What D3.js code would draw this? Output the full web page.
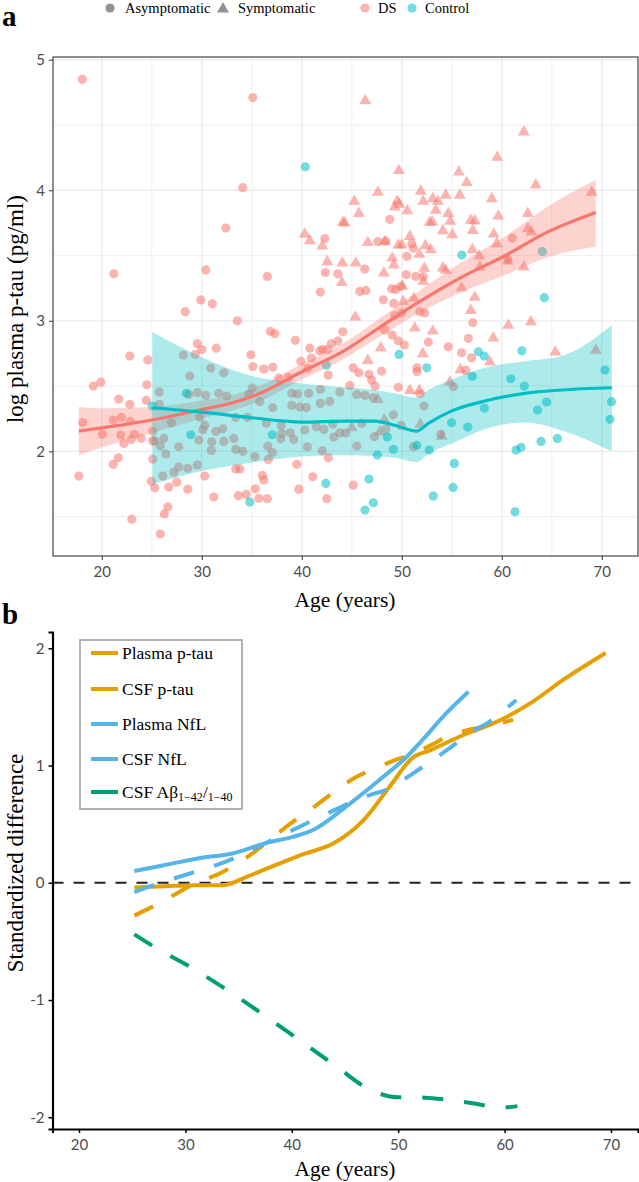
<!DOCTYPE html>
<html>
<head>
<meta charset="utf-8">
<script src="https://cdn.jsdelivr.net/npm/d3@7"></script>
<style>
  body { margin: 0; background: #fff; }
  text { font-family: "Liberation Serif", serif; }
  .tick text { font-family: "Lato", sans-serif; fill: #4d4d4d; font-size: 15px; }
</style>
</head>
<body>
<div id="plot"></div>
<script>
// ---- panel a: log plasma p-tau vs age ----
const dsAsymptomatic = [
  [18.05,4.85],[35.1,4.71],[34.1,4.02],[32.4,3.71],[21.2,3.36],[30.4,3.39],[36.55,3.34],[42.3,3.63],
  [42.35,3.37],[43.6,3.36],[41.85,3.22],[29.9,3.16],[31.05,3.13],
  [28.35,3.07],[33.55,3.0],[36.85,2.92],[37.3,2.90],[22.8,2.73],[24.6,2.70],[19.15,2.50],[19.9,2.53],
  [24.5,2.51],[21.7,2.40],[22.8,2.36],[24.45,2.39],[18.1,2.22],[21.15,2.24],[21.95,2.26],[22.85,2.23],
  [20.05,2.13],[21.9,2.125],[23.25,2.13],[23.95,2.10],[22.2,2.06],[22.95,2.09],[21.65,1.95],[21.15,1.90],
  [17.7,1.81],[25.1,1.94],[25.1,2.155],[25.1,2.08],[24.95,1.77],[25.3,1.72],[23.0,1.48],[26.25,1.52],
  [26.6,1.575],[25.85,1.366],[26.7,1.726],[27.5,1.764],[28.6,1.71],[30.3,1.81],[31.2,1.65],[33.4,1.865],
  [33.8,1.865],[33.65,1.66],[34.45,1.67],[35.35,1.713],[35.7,1.64],[36.55,1.637],[36.05,1.815],[36.2,1.78],
  [39.5,1.90],[41.1,1.805],[39.7,1.71],[42.5,1.637],[42.65,1.95],
  [29.55,2.824],[30.0,2.78],[31.45,2.79],[34.9,2.74],[35.1,2.65],[36.2,2.63],[37.1,2.645],[39.35,2.85],
  [39.9,2.69],[40.8,2.79],[40.95,2.715],[40.6,2.635],[41.8,2.77],[42.1,2.78],[42.6,2.78],[42.65,2.584],
  [42.95,2.824],[43.6,2.845],[44.1,2.916],[37.7,2.56],[38.65,2.566],
  [28.15,2.737],[29.35,2.742],[28.8,2.577],[30.9,2.638],[32.2,2.602],[25.75,2.454],[25.75,2.36],[28.7,2.436],
  [29.55,2.449],[30.4,2.429],[31.7,2.444],[32.5,2.423],[35.05,2.485],[34.7,2.436],[35.8,2.38],[37.1,2.334],
  [39.0,2.444],[39.55,2.439],[40.7,2.444],[39.0,2.352],[39.8,2.34],[40.45,2.334],[41.85,2.367],[41.85,2.474],
  [42.8,2.382],[43.8,2.454],[26.95,2.219],[29.8,2.26],[30.3,2.20],[33.4,2.26],[34.55,2.26],[36.45,2.216],
  [37.95,2.20],[41.45,2.188],[43.1,2.21],[25.3,2.08],[26.2,2.099],[25.85,2.04],[26.4,1.98],[27.7,2.035],
  [29.7,2.086],[30.1,2.165],[31.0,2.073],[30.95,2.007],[31.4,2.153],[32.1,2.173],[32.2,2.076],[33.2,2.099],
  [33.4,2.015],[34.1,2.0],[35.3,1.96],[36.6,2.04],[37.05,1.99],[36.65,1.938],[38.0,2.137],[37.9,2.096],
  [38.85,2.142],[39.2,2.091],[40.3,2.163],[40.55,2.035],[42.05,2.004],[42.2,2.168],[43.2,2.109],[43.8,2.142],
  [28.6,1.87],[27.7,1.88],[27.2,1.84],[26.1,1.81],[29.55,1.895],
  [48.8,3.777],[47.6,3.606],[48.4,3.61],[51.0,3.591],[51.15,3.557],[50.5,3.493],[46.3,3.396],[50.45,3.353],
  [51.4,3.34],[52.15,3.34],[45.8,3.225],[46.4,3.233],[48.99,3.246],[49.4,3.24],[49.9,3.264],[48.15,3.161],
  [49.2,3.133],[61.05,3.634],[60.6,3.47],
  [57.1,2.985],[56.65,2.865],[54.65,2.801],[52.65,2.837],[50.25,2.814],[49.65,2.847],[49.05,2.891],[48.3,2.93],
  [49.3,3.04],[50.0,3.06],[51.8,3.07],[52.3,3.06],
  [55.98,2.755],[56.98,2.717],[47.98,2.615],[51.52,2.64],[51.52,2.61],[56.4,2.62],[45.15,2.64],[45.7,2.602],
  [46.72,2.59],[46.98,2.546],[47.32,2.5],[49.65,2.49],[51.82,2.441],[44.8,2.505],[45.15,1.741],
  [45.5,2.436],[46.32,2.428],[47.15,2.41],[55.15,2.495],[52.22,2.347],[49.15,2.28],[46.0,2.214],[47.25,2.112],
  [48.4,2.173],[49.92,2.198],[45.5,2.04],[51.15,2.035],[44.4,2.14],[53.9,2.13]
];
const dsSymptomatic = [
  [40.3,3.67],[40.8,3.62],[42.05,3.58],[44.1,3.76],[42.55,3.46],[44.05,3.45],[44.0,3.30],
  [46.35,4.694],[62.2,4.454],[59.55,4.26],[49.7,4.158],[55.7,4.147],[56.5,4.066],[63.4,4.048],[69.0,3.992],
  [47.6,3.992],[51.9,4.0],[45.25,3.923],[45.7,3.83],[49.55,3.923],[49.3,3.88],[49.75,3.9],[50.55,3.85],
  [52.15,3.923],[53.1,3.943],[53.6,3.923],[54.4,3.97],[55.8,3.97],[54.65,3.83],[53.4,3.854],[59.0,3.943],
  [59.65,3.81],[62.6,3.83],[54.85,3.77],[52.8,3.762],[53.05,3.765],[56.9,3.777],[57.3,3.772],[57.1,3.70],
  [54.1,3.698],[55.05,3.667],[59.2,3.672],[62.6,3.713],[62.95,3.688],[44.3,3.757],[46.6,3.608],[48.3,3.614],
  [49.65,3.588],[50.0,3.588],[50.8,3.654],[52.35,3.583],[52.9,3.552],[57.05,3.552],[59.5,3.598],[45.4,3.45],
  [48.2,3.373],[49.05,3.488],[49.2,3.435],[51.75,3.517],[52.25,3.409],[54.1,3.412],[54.4,3.394],[57.75,3.504],
  [57.8,3.42],[60.6,3.465],[62.2,3.42],[50.05,3.271],[50.15,3.156],[52.15,3.31],[55.98,3.26],[57.3,3.187],
  [51.2,3.18],
  [45.35,3.036],[56.9,3.087],[60.65,2.973],[62.9,3.0],[59.15,2.875],[52.1,2.755],[53.1,2.929],[51.3,2.952],
  [47.9,2.799],[46.6,2.704],[55.85,2.633],[58.8,2.692],[65.35,2.768],[54.8,2.538],[50.8,2.474],[51.75,2.474],
  [69.4,2.781],[47.6,2.405],[45.0,2.188],[48.25,2.25],[47.8,2.155],[51.85,2.214],[54.0,2.122]
];
const controls = [
  [40.35,4.18],[28.45,2.444],[28.9,2.127],[37.05,2.127],[42.4,1.754],[34.8,1.611],[25.05,2.347],[42.45,2.66],
  [56.0,3.504],[64.05,3.53],[64.25,3.177],[57.65,2.763],[58.25,2.73],[62.0,2.77],[57.05,2.574],[60.9,2.556],
  [62.25,2.5],[70.32,2.623],[70.98,2.38],[70.82,2.245],[58.25,2.331],[63.58,2.316],[64.48,2.377],[54.98,2.219],
  [56.6,2.186],[48.55,2.109],[49.15,2.015],[47.55,1.971],[51.5,2.045],[52.75,2.01],[61.42,2.01],[61.92,2.03],
  [63.92,2.076],[65.55,2.099],[55.25,1.907],[46.72,1.787],[55.12,1.723],[53.15,1.657],[47.15,1.606],[46.32,1.55],
  [61.32,1.537],[52.5,2.64],[49.72,2.742]
];

// smooth fits: [age, fit, lower, upper]
const dsFit = [
  [17.7,2.155,1.97,2.34],[20,2.18,2.03,2.33],[25,2.24,2.14,2.34],[30,2.32,2.25,2.39],[33,2.37,2.31,2.43],
  [36,2.45,2.39,2.51],[40,2.61,2.55,2.67],[44,2.76,2.70,2.82],[48,2.96,2.89,3.03],[51,3.11,3.03,3.19],
  [56,3.335,3.22,3.45],[60.6,3.51,3.36,3.66],[64.3,3.67,3.48,3.86],[69.4,3.83,3.57,4.08]
];
const controlFit = [
  [25.05,2.334,1.747,2.914],[30,2.30,1.85,2.72],[35,2.257,1.913,2.577],[40,2.224,1.96,2.52],
  [44.3,2.232,1.97,2.49],[47.3,2.232,1.965,2.47],[49.3,2.2,1.95,2.444],[51.5,2.155,1.918,2.41],
  [52.65,2.214,1.98,2.47],[55,2.31,2.06,2.55],[58.3,2.385,2.17,2.64],[62.3,2.444,2.22,2.69],
  [66,2.47,2.16,2.73],[71,2.487,2.0,2.965]
];

// ---- panel b: standardized difference vs age ----
const plasmaPtau = [[25.2,-0.04],[28,-0.03],[31,-0.02],[33.5,-0.02],[36,0.06],[39,0.17],[41.3,0.25],[43.8,0.33],
  [46.7,0.53],[49.2,0.82],[51.4,1.07],[53,1.13],[56.1,1.26],[59.2,1.37],[62.4,1.53],[65.5,1.73],[69.5,1.96]];
const csfPtau = [[25.2,-0.28],[27,-0.2],[29,-0.1],[31,0.0],[33,0.07],[35.5,0.2],[37.6,0.34],[39.8,0.5],[42,0.64],
  [44.2,0.79],[46,0.9],[47.9,0.975],[49.5,1.04],[51.4,1.10],[53,1.17],[54.8,1.255],[56.4,1.30],[58.9,1.345],[60.8,1.39]];
const plasmaNfl = [[25.2,0.10],[28,0.15],[31.3,0.21],[34.4,0.25],[37.6,0.34],[40,0.39],[42,0.45],[45.1,0.65],
  [48.2,0.875],[50.8,1.075],[52.3,1.22],[54.5,1.445],[56.6,1.63]];
const csfNfl = [[25.2,-0.08],[27,-0.02],[29.4,0.05],[31.5,0.11],[33.8,0.18],[36,0.27],[38.5,0.38],[41.7,0.52],
  [44,0.62],[46.4,0.72],[49.5,0.82],[51.5,0.94],[53.3,1.05],[55,1.16],[56.7,1.275],[58.6,1.375],[61.1,1.56]];
const csfAbeta = [[25.2,-0.44],[27.5,-0.57],[30.5,-0.72],[33.5,-0.89],[36.3,-1.06],[38.5,-1.2],[40.7,-1.34],
  [42.7,-1.47],[44.7,-1.60],[46.5,-1.72],[48.3,-1.80],[50,-1.83],[51.6,-1.83],[54,-1.845],[57,-1.88],
  [59,-1.91],[60,-1.915],[61.2,-1.905]];

const xTicks = [20, 30, 40, 50, 60, 70];
const yTicksA = [2, 3, 4, 5];
const yTicksB = [-2, -1, 0, 1, 2];

const width = 639, height = 1182;
const svg = d3.select("#plot").append("svg")
  .attr("width", width)
  .attr("height", height);

const DS = "#F8766D", CTRL = "#00BFC4";
const plain = d => String(d).replace("\u2212", "-");

// ======== panel a ========
const xA = d3.scaleLinear().domain([15.12, 73.62]).range([53, 638]);
const yA = d3.scaleLinear().domain([1.198, 5.021]).range([556, 57]);

const gA = svg.append("g");
// grid
const minorX = [25, 35, 45, 55, 65], minorY = [1.5, 2.5, 3.5, 4.5];
gA.selectAll(".gx").data(xTicks.concat(minorX)).enter().append("line")
  .attr("x1", d => xA(d)).attr("x2", d => xA(d)).attr("y1", 57).attr("y2", 556)
  .attr("stroke", "#ebebeb").attr("stroke-width", (d, i) => i < xTicks.length ? 1.3 : 0.8);
gA.selectAll(".gy").data(yTicksA.concat(minorY)).enter().append("line")
  .attr("x1", 53).attr("x2", 638).attr("y1", d => yA(d)).attr("y2", d => yA(d))
  .attr("stroke", "#ebebeb").attr("stroke-width", (d, i) => i < yTicksA.length ? 1.3 : 0.8);

// points
gA.selectAll(".dsc").data(dsAsymptomatic).enter().append("circle")
  .attr("cx", d => xA(d[0])).attr("cy", d => yA(d[1])).attr("r", 4.6)
  .attr("fill", DS).attr("fill-opacity", 0.55);
const tri = d3.symbol().type(d3.symbolTriangle).size(62);
gA.selectAll(".dst").data(dsSymptomatic).enter().append("path")
  .attr("d", tri)
  .attr("transform", d => `translate(${xA(d[0])},${yA(d[1]) + 1})`)
  .attr("fill", DS).attr("fill-opacity", 0.55);
gA.selectAll(".ctl").data(controls).enter().append("circle")
  .attr("cx", d => xA(d[0])).attr("cy", d => yA(d[1])).attr("r", 4.6)
  .attr("fill", CTRL).attr("fill-opacity", 0.55);

// ribbons + fits
const band = d3.area().x(d => xA(d[0])).y0(d => yA(d[2])).y1(d => yA(d[3])).curve(d3.curveMonotoneX);
const fit = d3.line().x(d => xA(d[0])).y(d => yA(d[1])).curve(d3.curveMonotoneX);
gA.append("path").datum(dsFit).attr("d", band).attr("fill", DS).attr("fill-opacity", 0.32);
gA.append("path").datum(controlFit).attr("d", band).attr("fill", CTRL).attr("fill-opacity", 0.32);
gA.append("path").datum(dsFit).attr("d", fit).attr("fill", "none").attr("stroke", DS).attr("stroke-width", 3.2);
gA.append("path").datum(controlFit).attr("d", fit).attr("fill", "none").attr("stroke", CTRL).attr("stroke-width", 3.2);

// border
gA.append("rect").attr("x", 53).attr("y", 57).attr("width", 585).attr("height", 499)
  .attr("fill", "none").attr("stroke", "#333").attr("stroke-width", 1.1);

gA.append("g").attr("transform", "translate(0,556)")
  .call(d3.axisBottom(xA).tickValues(xTicks).tickSize(4).tickPadding(6).tickFormat(plain))
  .call(g => g.select(".domain").remove())
  .call(g => g.selectAll(".tick line").attr("stroke", "#333"));
gA.append("g").attr("transform", "translate(53,0)")
  .call(d3.axisLeft(yA).tickValues(yTicksA).tickSize(4).tickPadding(4).tickFormat(plain))
  .call(g => g.select(".domain").remove())
  .call(g => g.selectAll(".tick line").attr("stroke", "#333"));

gA.append("text").attr("x", 345).attr("y", 607).attr("text-anchor", "middle")
  .attr("font-size", 21.5).text("Age (years)");
gA.append("text").attr("transform", "translate(23,309) rotate(-90)").attr("text-anchor", "middle")
  .attr("font-size", 23).text("log plasma p-tau (pg/ml)");

// top legend
const lg = svg.append("g").attr("font-size", 14.5);
lg.append("circle").attr("cx", 110).attr("cy", 8).attr("r", 4.6).attr("fill", "#7f7f7f").attr("fill-opacity", 0.85);
lg.append("text").attr("x", 125).attr("y", 13).text("Asymptomatic");
lg.append("path").attr("d", tri).attr("transform", "translate(223,9)").attr("fill", "#7f7f7f").attr("fill-opacity", 0.85);
lg.append("text").attr("x", 238).attr("y", 13).text("Symptomatic");
lg.append("circle").attr("cx", 365).attr("cy", 8).attr("r", 4.6).attr("fill", DS).attr("fill-opacity", 0.55);
lg.append("text").attr("x", 378).attr("y", 13).text("DS");
lg.append("circle").attr("cx", 412).attr("cy", 8).attr("r", 4.6).attr("fill", CTRL).attr("fill-opacity", 0.55);
lg.append("text").attr("x", 425).attr("y", 13).text("Control");

svg.append("text").attr("x", 2).attr("y", 26).attr("font-size", 29).attr("font-weight", "bold").text("a");
svg.append("text").attr("x", 2).attr("y", 624).attr("font-size", 29).attr("font-weight", "bold").text("b");

// ======== panel b ========
const xB = d3.scaleLinear().domain([17.51, 72.54]).range([52.5, 638]);
const yB = d3.scaleLinear().domain([-2.1, 2.139]).range([1129, 632]);
const gB = svg.append("g");

gB.append("line").attr("x1", 52.5).attr("x2", 638).attr("y1", yB(0)).attr("y2", yB(0))
  .attr("stroke", "#222").attr("stroke-width", 2).attr("stroke-dasharray", "11,10");

const series = [
  { name: "Plasma p-tau", data: plasmaPtau, color: "#E69F00", dash: null },
  { name: "CSF p-tau", data: csfPtau, color: "#E69F00", dash: "21,21" },
  { name: "Plasma NfL", data: plasmaNfl, color: "#56B4E9", dash: null },
  { name: "CSF NfL", data: csfNfl, color: "#56B4E9", dash: "21,21" },
  { name: "CSF Aβ", data: csfAbeta, color: "#009E73", dash: "21,21" }
];
const lineB = d3.line().x(d => xB(d[0])).y(d => yB(d[1])).curve(d3.curveMonotoneX);
gB.selectAll(".ser").data(series).enter().append("path")
  .attr("d", d => lineB(d.data)).attr("fill", "none")
  .attr("stroke", d => d.color).attr("stroke-width", 4)
  .attr("stroke-dasharray", d => d.dash);

gB.append("g").attr("transform", "translate(0,1129)")
  .call(d3.axisBottom(xB).tickValues(xTicks).tickSize(4).tickPadding(6).tickFormat(plain))
  .call(g => g.select(".domain").attr("stroke", "#000").attr("stroke-width", 2.2))
  .call(g => g.selectAll(".tick line").attr("stroke", "#000").attr("stroke-width", 1.5));
gB.append("g").attr("transform", "translate(52.5,0)")
  .call(d3.axisLeft(yB).tickValues(yTicksB).tickSize(4).tickPadding(4).tickFormat(plain))
  .call(g => g.select(".domain").attr("stroke", "#000").attr("stroke-width", 2.2))
  .call(g => g.selectAll(".tick line").attr("stroke", "#000").attr("stroke-width", 1.5));

gB.append("text").attr("x", 345).attr("y", 1176).attr("text-anchor", "middle")
  .attr("font-size", 21.5).text("Age (years)");
gB.append("text").attr("transform", "translate(23,863) rotate(-90)").attr("text-anchor", "middle")
  .attr("font-size", 23).text("Standardized difference");

// legend box
const lb = gB.append("g");
lb.append("rect").attr("x", 80).attr("y", 640).attr("width", 162).attr("height", 169)
  .attr("fill", "#fff").attr("stroke", "#aaa").attr("stroke-width", 1.8);
const legY = [653, 689, 724, 759, 792];
series.forEach((s, i) => {
  lb.append("line").attr("x1", 91).attr("x2", 118).attr("y1", legY[i]).attr("y2", legY[i])
    .attr("stroke", s.color).attr("stroke-width", 4);
  const t = lb.append("text").attr("x", 122).attr("y", legY[i] + 6).attr("font-size", 17.5);
  if (i < 4) t.text(s.name);
  else {
    t.append("tspan").text("CSF Aβ");
    t.append("tspan").attr("font-size", 12).attr("dy", 3).text("1−42");
    t.append("tspan").attr("font-size", 17.5).attr("dy", -3).text("/");
    t.append("tspan").attr("font-size", 12).attr("dy", 3).text("1−40");
  }
});
</script>
</body>
</html>
